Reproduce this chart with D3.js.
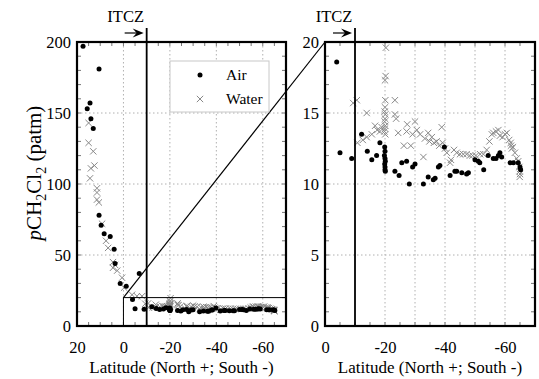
<!DOCTYPE html>
<html>
<head>
<meta charset="utf-8">
<script src="https://cdn.jsdelivr.net/npm/d3@7"></script>
<style>
  body { margin: 0; background: #fff; }
  svg { display: block; }
  svg text { font-family: "Liberation Serif", "Times New Roman", serif; fill: #000; }
  .tick text { font-size: 16.5px; }
</style>
</head>
<body>
<svg id="chart" width="539" height="379"></svg>
<script>
// [latitude, pCH2Cl2 in patm]
const airData = [
  [17.4,197],[10.5,181],[14.4,157],[15.6,153],[14,146],[13,139],[10.5,78],[9.6,71],[8.3,65],
  [5.7,63],[4,54],[3.6,44],[1.4,30],[-1.2,28],[-6.8,37],
  [-3.9,18.6],[-5,12.2],[-8.9,11.8],[-12.2,13.5],[-14.1,12.3],[-15.6,11.7],[-17.2,12.0],[-18.3,12.9],
  [-19.9,12.6],[-20,12.3],[-19.8,12.0],[-20,11.8],[-20.1,11.6],[-19.9,11.4],[-20,11.2],[-20,11.0],[-20.1,10.9],
  [-23.3,10.9],[-24.7,10.6],[-25.6,11.5],[-27.2,11.6],[-28.1,10.0],[-29.2,11.2],[-30,11.4],[-32.8,10.0],
  [-34.4,10.5],[-36.1,10.3],[-36.7,10.4],[-37.8,11.2],[-38.3,11.3],[-39.8,12.6],[-41.7,10.6],[-43.3,10.9],
  [-43.9,10.9],[-45.6,10.8],[-47.2,10.7],[-47.8,10.8],[-50,11.7],[-51.1,11.6],[-51.6,11.5],[-52.9,11.0],
  [-54.4,12.0],[-56.1,11.8],[-57,11.8],[-57.8,12.0],[-58.3,12.2],[-58.9,11.9],[-61.7,11.5],[-62.8,11.5],
  [-64.4,11.5],[-65,11.2],[-65.2,11.0]
];

const waterData = [
  [15,143],[15,129],[13,123],[12.5,113],[14,111],[14.4,104],[11.4,97],[11.4,94],[11.4,89],[10.6,87],
  [9.2,72],[7.5,60],[6.6,55],[4.5,45],[3.6,43],[4.5,41],[2.7,39],[0.6,34],[-0.3,27],[-3.7,22],[-5.8,21],[-8,21],
  [-9.4,15.7],[-10.6,15.9],[-13.9,15.0],[-10.8,12.9],[-12.6,13.1],[-13.9,13.3],[-15.6,13.5],[-16.7,14.1],
  [-17.4,13.8],[-18.3,13.7],[-18.9,14.0],
  [-20.3,19.6],[-20.2,17.6],[-20,17.3],[-20.1,15.9],[-20,15.4],[-19.9,15.1],[-20.1,14.9],[-20,14.6],
  [-19.9,14.4],[-20.1,14.1],[-20,13.9],[-19.8,13.7],[-20.1,13.5],
  [-23.3,15.9],[-23.3,14.9],[-23.7,14.6],[-24.4,13.6],[-26.3,12.7],[-27.2,13.7],[-27.4,14.2],[-28.6,12.7],
  [-29.2,13.5],[-30,14.4],[-30.6,13.8],[-31.7,13.5],[-32.8,11.9],[-33.3,13.2],[-34.4,13.6],[-34.8,13.0],
  [-35.6,13.3],[-36.3,12.9],[-37.2,13.0],[-38.1,12.7],[-38.9,14.0],[-39.2,12.9],[-40,12.5],[-40.6,12.2],
  [-41.7,11.5],[-42,11.7],[-43,12.4],[-43.9,12.2],[-45,12.1],[-46.1,12.1],[-47.2,12.1],[-48.3,12.0],
  [-49.2,12.0],[-50.3,12.0],[-51.7,12.1],[-52.8,12.1],[-53.9,12.4],[-54.8,13.0],[-55.6,13.5],[-56.1,13.6],
  [-57,13.7],[-57.8,13.8],[-58.3,13.4],[-59.2,13.3],[-60,13.5],[-60.6,13.6],[-61.4,13.1],[-61.9,12.9],
  [-62,12.7],[-62.3,12.5],[-62.6,12.6],[-63.3,12.2],[-63.9,11.8],[-64.4,11.6],[-64.8,11.2],[-64.9,10.9],
  [-65,10.7],[-64.9,10.5]
];

const itczLat = -10;
const zoomMax = 20;

const leftXTicks = [20, 0, -20, -40, -60];
const leftYTicks = [0, 50, 100, 150, 200];
const rightXTicks = [0, -20, -40, -60];
const rightYTicks = [0, 5, 10, 15, 20];

const svg = d3.select('#chart');

const plotTop = 42, plotBottom = 326;

// Scales
const xL = d3.scaleLinear().domain([20, -70]).range([77, 286]);
const yL = d3.scaleLinear().domain([0, 200]).range([plotBottom, plotTop]);
const xR = d3.scaleLinear().domain([0, -70]).range([325, 535]);
const yR = d3.scaleLinear().domain([0, 20]).range([plotBottom, plotTop]);

const defs = svg.append('defs');
defs.append('clipPath').attr('id', 'clipL').append('rect')
    .attr('x', 77).attr('y', plotTop).attr('width', 286 - 77).attr('height', plotBottom - plotTop);
defs.append('clipPath').attr('id', 'clipR').append('rect')
    .attr('x', 325).attr('y', plotTop).attr('width', 535 - 325).attr('height', plotBottom - plotTop);

const waterSymbol = d3.symbol(d3.symbolTimes, 28);

function drawPanel(x, y, opt) {
  const g = svg.append('g');
  const [x0, x1] = x.range();

  // dotted grid
  g.selectAll('.gx').data(opt.gridX).join('line')
      .attr('x1', d => x(d)).attr('x2', d => x(d))
      .attr('y1', plotTop).attr('y2', plotBottom)
      .attr('stroke', '#b0b0b0').attr('stroke-dasharray', '1.5,2.5');
  g.selectAll('.gy').data(opt.gridY).join('line')
      .attr('x1', x0).attr('x2', x1)
      .attr('y1', d => y(d)).attr('y2', d => y(d))
      .attr('stroke', '#b0b0b0').attr('stroke-dasharray', '1.5,2.5');

  // minor inward ticks on all four sides
  opt.minorX.forEach(d => {
    g.append('line').attr('x1', x(d)).attr('x2', x(d)).attr('y1', plotTop).attr('y2', plotTop + 4).attr('stroke', '#777');
    g.append('line').attr('x1', x(d)).attr('x2', x(d)).attr('y1', plotBottom).attr('y2', plotBottom - 4).attr('stroke', '#777');
  });
  opt.minorY.forEach(d => {
    g.append('line').attr('x1', x0).attr('x2', x0 + 4).attr('y1', y(d)).attr('y2', y(d)).attr('stroke', '#777');
    g.append('line').attr('x1', x1).attr('x2', x1 - 4).attr('y1', y(d)).attr('y2', y(d)).attr('stroke', '#777');
  });

  // tick labels
  g.append('g')
      .attr('transform', 'translate(0,' + plotBottom + ')')
      .call(d3.axisBottom(x).tickValues(opt.tickX).tickSize(0).tickPadding(15).tickFormat(d => String(d)))
      .call(a => a.attr('font-family', null).attr('font-size', null).select('.domain').remove());
  g.append('g')
      .attr('transform', 'translate(' + x0 + ',0)')
      .call(d3.axisLeft(y).tickValues(opt.tickY).tickSize(0).tickPadding(6).tickFormat(d => String(d)))
      .call(a => a.attr('font-family', null).attr('font-size', null).select('.domain').remove());

  // points
  const pts = g.append('g').attr('clip-path', 'url(#' + opt.clip + ')');
  pts.selectAll('.water').data(waterData).join('path')
      .attr('class', 'water')
      .attr('d', waterSymbol)
      .attr('transform', d => 'translate(' + x(d[0]) + ',' + y(d[1]) + ')')
      .attr('stroke', '#888').attr('stroke-width', 1).attr('fill', 'none');
  pts.selectAll('.air').data(airData).join('circle')
      .attr('class', 'air')
      .attr('cx', d => x(d[0])).attr('cy', d => y(d[1])).attr('r', 2.5)
      .attr('fill', '#000');

  // ITCZ line, arrow and label
  const xi = x(itczLat);
  g.append('line').attr('x1', xi).attr('x2', xi).attr('y1', 28).attr('y2', plotBottom)
      .attr('stroke', '#000').attr('stroke-width', 1.8);
  g.append('line').attr('x1', xi - 22).attr('x2', xi - 8).attr('y1', 33).attr('y2', 33)
      .attr('stroke', '#000').attr('stroke-width', 1.2);
  g.append('path')
      .attr('d', 'M' + (xi - 3) + ',33 L' + (xi - 14) + ',28.5 L' + (xi - 10) + ',33 L' + (xi - 14) + ',37.5 Z')
      .attr('fill', '#000');
  g.append('text').attr('x', xi - 21).attr('y', 22).attr('text-anchor', 'middle')
      .style('font-size', '16.5px').text('ITCZ');

  // frame
  g.append('rect').attr('x', x0).attr('y', plotTop).attr('width', x1 - x0).attr('height', plotBottom - plotTop)
      .attr('fill', 'none').attr('stroke', '#000').attr('stroke-width', 2.2);

  // x title
  g.append('text').attr('x', (x0 + x1) / 2).attr('y', 373).attr('text-anchor', 'middle')
      .style('font-size', '17px').text('Latitude (North +; South -)');
  return g;
}

drawPanel(xL, yL, {
  gridX: [0, -20, -40, -60], gridY: [50, 100, 150],
  minorX: d3.range(15, -70, -5), minorY: d3.range(10, 200, 10),
  tickX: leftXTicks, tickY: leftYTicks, clip: 'clipL'
});
drawPanel(xR, yR, {
  gridX: [-20, -30, -40, -50, -60], gridY: [5, 10, 15],
  minorX: d3.range(-5, -70, -5), minorY: d3.range(1, 20, 1),
  tickX: rightXTicks, tickY: rightYTicks, clip: 'clipR'
});

// zoom box in left panel and connector to right panel
svg.append('rect')
    .attr('x', xL(0)).attr('y', yL(zoomMax))
    .attr('width', xL(-70) - xL(0)).attr('height', yL(0) - yL(zoomMax))
    .attr('fill', 'none').attr('stroke', '#000').attr('stroke-width', 1);
svg.append('line')
    .attr('x1', xL(0)).attr('y1', yL(zoomMax))
    .attr('x2', xR(0)).attr('y2', yR(zoomMax))
    .attr('stroke', '#000').attr('stroke-width', 1.2);

// legend
const lg = svg.append('g');
lg.append('rect').attr('x', 170).attr('y', 61).attr('width', 99).attr('height', 51)
    .attr('fill', '#fff').attr('stroke', '#c8c8c8');
lg.append('circle').attr('cx', 200).attr('cy', 75).attr('r', 2.5).attr('fill', '#000');
lg.append('path').attr('d', waterSymbol)
    .attr('transform', 'translate(200,99)').attr('stroke', '#888').attr('fill', 'none');
lg.append('text').attr('x', 226).attr('y', 80).style('font-size', '15.5px').text('Air');
lg.append('text').attr('x', 226).attr('y', 104).style('font-size', '15.5px').text('Water');

// y title
const yt = svg.append('text')
    .attr('transform', 'translate(41,173) rotate(-90)')
    .attr('text-anchor', 'middle')
    .style('font-size', '21px');
yt.append('tspan').style('font-style', 'italic').text('p');
yt.append('tspan').text('CH');
yt.append('tspan').attr('dy', 5).style('font-size', '14px').text('2');
yt.append('tspan').attr('dy', -5).text('Cl');
yt.append('tspan').attr('dy', 5).style('font-size', '14px').text('2');
yt.append('tspan').attr('dy', -5).text(' (patm)');
</script>
</body>
</html>
